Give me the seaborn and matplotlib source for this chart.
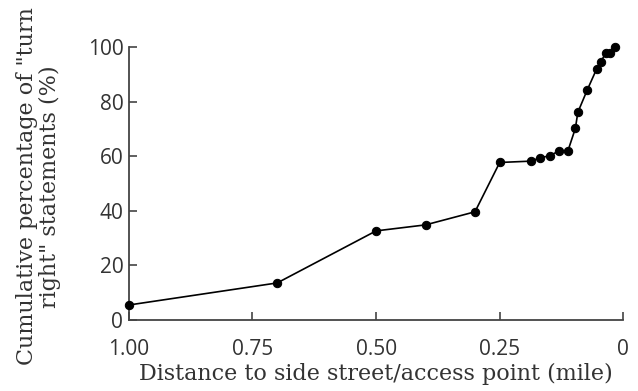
import matplotlib
matplotlib.use("Agg")
import matplotlib.pyplot as plt
import seaborn as sns
import pandas as pd

distance = [1.00, 0.70, 0.50, 0.40, 0.30, 0.25, 0.186, 0.168, 0.149, 0.130, 0.112,
            0.097, 0.092, 0.073, 0.054, 0.046, 0.035, 0.027, 0.016]
cum_pct = [5.5, 13.6, 32.7, 34.9, 39.7, 57.8, 58.3, 59.6, 60.2, 62.1, 62.1,
           70.3, 76.2, 84.4, 92.1, 94.8, 97.9, 98.1, 100.3]
x_ticks = [1.00, 0.75, 0.50, 0.25, 0.0]
x_tick_labels = ["1.00", "0.75", "0.50", "0.25", "0"]
y_ticks = [0, 20, 40, 60, 80, 100]
y_tick_labels = ["0", "20", "40", "60", "80", "100"]

df = pd.DataFrame({"distance": distance, "pct": cum_pct})

sns.set_style("ticks")
plt.rcParams["font.family"] = ["DejaVu Serif"]

fig = plt.figure(figsize=(6.38, 3.91), dpi=100)
ax = fig.add_axes([0.202, 0.1816, 0.775, 0.697])

sns.lineplot(data=df, x="distance", y="pct", ax=ax, color="black", linewidth=1.2,
             marker="o", markersize=6, markeredgecolor="black", sort=False,
             clip_on=False, zorder=3)

ax.set_xlim(1.0, 0.0)
ax.set_ylim(0, 100)
ax.set_xticks(x_ticks)
ax.set_xticklabels(x_tick_labels, fontfamily="Open Sans", fontsize=15, color="#333333")
ax.set_yticks(y_ticks)
ax.set_yticklabels(y_tick_labels, fontfamily="Open Sans", fontsize=15, color="#333333")
ax.tick_params(direction="in", length=6, width=1.2, color="#444444")
ax.tick_params(axis="x", pad=14)
ax.tick_params(axis="y", pad=4)

for s in ["top", "right"]:
    ax.spines[s].set_visible(False)
for s in ["left", "bottom"]:
    ax.spines[s].set_linewidth(1.3)
    ax.spines[s].set_color("#444444")

ax.set_xlabel("Distance to side street/access point (mile)", fontsize=16,
              color="#333333", labelpad=2)
ax.set_ylabel('Cumulative percentage of "turn\nright" statements (%)', fontsize=16,
              color="#333333", linespacing=1.05)
ax.yaxis.set_label_coords(-0.1375, 0.49)

fig.savefig("out.png", dpi=100)
